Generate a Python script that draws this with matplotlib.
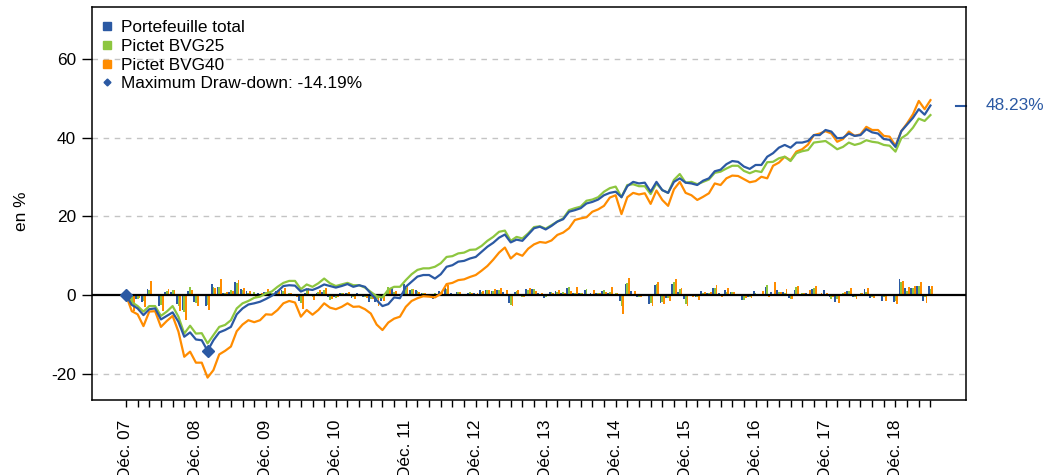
import matplotlib
matplotlib.use("Agg")
import matplotlib.pyplot as plt
import numpy as np
from matplotlib.lines import Line2D
from matplotlib.transforms import blended_transform_factory

plt.rcParams['font.family'] = ['Liberation Sans', 'DejaVu Sans']

# cumulated performance in %, monthly from Dec 2007 to Jun 2019
total = [0, -2.5, -3.4, -5.1, -3.6, -3.4, -6.2, -5.3, -4.4, -6.8, -10.6, -9.5,
         -11.3, -11.5, -14.19, -11.5, -9.5, -8.9, -8.1, -4.9, -3.4, -2.4, -2.1, -1.7,
         -1.0, -0.2, 0.9, 2.3, 2.5, 2.4, 0.9, 1.5, 1.3, 1.9, 2.7, 2.3,
         1.9, 2.3, 2.8, 2.1, 2.5, 2.1, 0.4, -1.3, -2.8, -2.3, -0.6, -0.8,
         2.1, 3.4, 4.7, 5.1, 5.1, 4.2, 5.3, 7.2, 7.6, 8.5, 8.7, 9.3,
         9.7, 11.0, 12.3, 13.3, 14.6, 15.4, 13.4, 14.1, 13.8, 15.4, 17.0, 17.4,
         16.7, 17.6, 18.7, 19.3, 21.2, 21.6, 22.1, 23.3, 23.7, 24.3, 25.4, 26.0,
         26.3, 24.9, 27.7, 28.8, 28.4, 28.6, 26.3, 28.8, 26.7, 26.0, 28.8, 29.7,
         28.6, 28.4, 28.0, 29.1, 29.7, 31.5, 31.9, 33.3, 34.1, 33.9, 32.7, 32.1,
         33.1, 33.1, 35.2, 36.1, 37.5, 38.2, 37.5, 38.8, 38.8, 39.2, 40.7, 40.7,
         42.0, 41.6, 39.9, 40.0, 41.1, 40.5, 40.7, 42.2, 41.4, 41.1, 39.7, 39.5,
         37.7, 41.7, 43.4, 45.1, 47.3, 45.9, 48.23]
bvg25 = [0, -1.8, -2.8, -4.2, -2.8, -2.8, -5.3, -4.2, -2.8, -5.5, -9.8, -7.8,
         -9.8, -9.7, -12.3, -10.2, -8.1, -7.6, -6.4, -3.4, -2.1, -1.5, -0.7, -0.4,
         0.4, 0.9, 2.1, 3.1, 3.6, 3.6, 1.5, 2.7, 2.1, 3.0, 4.2, 3.0,
         2.3, 2.7, 3.1, 2.5, 2.5, 1.9, 0.8, -0.3, -0.6, 1.4, 2.1, 2.1,
         3.8, 5.3, 6.4, 6.8, 6.8, 7.2, 8.1, 9.7, 9.9, 10.6, 10.8, 11.5,
         11.6, 12.5, 13.8, 14.8, 16.1, 16.4, 13.8, 14.8, 14.4, 15.7, 17.3, 17.5,
         16.9, 17.8, 18.7, 19.5, 21.6, 22.1, 22.5, 24.0, 24.3, 24.9, 26.3, 27.2,
         27.6, 24.9, 28.0, 28.2, 27.7, 27.7, 25.7, 28.4, 26.7, 26.0, 29.3, 30.8,
         28.6, 28.8, 28.2, 28.8, 29.4, 31.1, 31.4, 32.2, 32.9, 32.9, 31.6, 31.0,
         31.6, 31.3, 33.8, 33.9, 34.8, 35.2, 34.1, 36.1, 36.6, 36.9, 38.8, 39.0,
         39.2, 38.2, 37.1, 37.7, 38.8, 38.2, 38.6, 39.4, 39.0, 38.8, 38.2, 38.0,
         36.5, 39.9, 40.9, 42.6, 44.9, 44.3, 45.8]
bvg40 = [0, -4.1, -4.9, -7.9, -4.2, -4.1, -8.1, -6.6, -5.3, -9.3, -15.7, -14.4,
         -17.2, -17.2, -21.0, -19.1, -15.1, -14.2, -13.1, -9.2, -7.5, -6.4, -6.9, -6.4,
         -4.9, -5.0, -3.8, -2.1, -1.5, -1.9, -5.5, -3.8, -5.0, -3.8, -2.1, -3.2,
         -3.6, -3.0, -2.1, -3.0, -2.9, -3.6, -4.7, -7.5, -8.9, -7.0, -6.0, -5.5,
         -3.0, -1.5, -0.8, -0.3, -0.4, -0.6, 0.3, 2.8, 3.1, 3.8, 4.0, 4.6,
         5.1, 6.2, 7.4, 9.0, 10.8, 12.1, 9.3, 10.6, 10.0, 11.8, 12.9, 13.5,
         13.3, 13.9, 15.3, 15.9, 17.0, 19.1, 19.5, 19.8, 21.2, 21.8, 22.7, 24.8,
         25.4, 20.6, 24.9, 26.0, 25.6, 25.9, 23.2, 26.6, 24.2, 22.7, 26.9, 28.8,
         26.0, 25.4, 24.2, 25.0, 25.9, 28.4, 28.0, 29.7, 30.4, 30.3, 29.5, 28.7,
         29.0, 30.1, 29.7, 32.9, 33.7, 35.2, 34.3, 36.5, 37.1, 38.3, 40.7, 41.1,
         41.7, 41.1, 39.0, 39.7, 41.6, 40.5, 40.9, 42.8, 42.0, 42.0, 40.5, 40.3,
         38.0, 41.7, 43.7, 46.0, 49.4, 47.3, 49.6]

# monthly returns in %
ret_total = [0, -2.5, -0.9, -1.7, 1.5, 0.2, -2.8, 0.9, 0.9, -2.4, -3.8, 1.1,
             -1.8, -0.2, -2.7, 2.7, 2.0, 0.6, 0.8, 3.2, 1.5, 1.0, 0.3, 0.4,
             0.7, 0.8, 1.1, 1.4, 0.2, -0.1, -1.5, 0.6, -0.2, 0.6, 0.8, -0.4,
             -0.4, 0.4, 0.5, -0.7, 0.4, -0.4, -1.7, -1.7, -1.5, 0.5, 1.7, -0.2,
             2.9, 1.3, 1.3, 0.4, 0.0, -0.9, 1.1, 1.9, 0.4, 0.9, 0.2, 0.6,
             0.4, 1.3, 1.3, 1.0, 1.3, 0.8, -2.0, 0.7, -0.3, 1.6, 1.6, 0.4,
             -0.7, 0.9, 1.1, 0.6, 1.9, 0.4, 0.5, 1.2, 0.4, 0.6, 1.1, 0.6,
             0.3, -1.4, 2.8, 1.1, -0.4, 0.2, -2.3, 2.5, -2.1, -0.7, 2.8, 0.9,
             -1.1, -0.2, -0.4, 1.1, 0.6, 1.8, 0.4, 1.4, 0.8, -0.2, -1.2, -0.6,
             1.0, 0.0, 2.1, 0.9, 1.4, 0.7, -0.7, 1.3, 0.0, 0.4, 1.5, 0.0,
             1.3, -0.4, -1.7, 0.1, 1.1, -0.6, 0.2, 1.5, -0.8, -0.3, -1.4, -0.2,
             -1.8, 4.0, 1.7, 1.7, 2.2, -1.4, 2.3]
ret_bvg25 = [0, -1.8, -1.0, -1.4, 1.4, 0.0, -2.5, 1.1, 1.4, -2.7, -4.3, 2.0,
             -2.0, 0.1, -2.6, 2.1, 2.1, 0.5, 1.2, 3.0, 1.3, 0.6, 0.8, 0.3,
             0.8, 0.5, 1.2, 1.0, 0.5, 0.0, -2.1, 1.2, -0.6, 0.9, 1.2, -1.2,
             -0.7, 0.4, 0.4, -0.6, 0.0, -0.6, -1.1, -1.1, -0.3, 2.0, 0.7, 0.0,
             1.7, 1.5, 1.1, 0.4, 0.0, 0.4, 0.9, 1.6, 0.2, 0.7, 0.2, 0.7,
             0.1, 0.9, 1.3, 1.0, 1.3, 0.3, -2.6, 1.0, -0.4, 1.3, 1.6, 0.2,
             -0.6, 0.9, 0.9, 0.8, 2.1, 0.5, 0.4, 1.5, 0.3, 0.6, 1.4, 0.9,
             0.4, -2.7, 3.1, 0.2, -0.5, 0.0, -2.0, 2.7, -1.7, -0.7, 3.3, 1.5,
             -2.2, 0.2, -0.6, 0.6, 0.6, 1.7, 0.3, 0.8, 0.7, 0.0, -1.3, -0.6,
             0.6, -0.3, 2.5, 0.1, 0.9, 0.4, -1.1, 2.0, 0.5, 0.3, 1.9, 0.2,
             0.2, -1.0, -1.1, 0.6, 1.1, -0.6, 0.4, 0.8, -0.4, -0.2, -0.6, -0.2,
             -1.5, 3.4, 1.0, 1.7, 2.3, -0.6, 1.5]
ret_bvg40 = [0, -4.1, -0.8, -3.0, 3.7, 0.1, -4.0, 1.5, 1.3, -4.0, -6.4, 1.3,
             -2.8, 0.0, -3.8, 1.9, 4.0, 0.9, 1.1, 3.9, 1.7, 1.1, -0.5, 0.5,
             1.5, -0.1, 1.2, 1.7, 0.6, -0.4, -3.6, 1.7, -1.2, 1.2, 1.7, -1.1,
             -0.4, 0.6, 0.9, -0.9, 0.1, -0.7, -1.1, -2.8, -1.4, 1.9, 1.0, 0.5,
             2.5, 1.5, 0.7, 0.5, -0.1, -0.2, 0.9, 2.5, 0.3, 0.7, 0.2, 0.6,
             0.5, 1.1, 1.2, 1.6, 1.8, 1.3, -2.8, 1.3, -0.6, 1.8, 1.1, 0.6,
             -0.2, 0.6, 1.4, 0.6, 1.1, 2.1, 0.4, 0.3, 1.4, 0.6, 0.9, 2.1,
             0.6, -4.8, 4.3, 1.1, -0.4, 0.3, -2.7, 3.4, -2.4, -1.5, 4.2, 1.9,
             -2.8, -0.6, -1.2, 0.8, 0.9, 2.5, -0.4, 1.7, 0.7, -0.1, -0.8, -0.8,
             0.3, 1.1, -0.4, 3.2, 0.8, 1.5, -0.9, 2.2, 0.6, 1.2, 2.4, 0.4,
             0.6, -0.6, -2.1, 0.7, 1.9, -1.1, 0.4, 1.9, -0.8, 0.0, -1.5, -0.2,
             -2.3, 3.7, 2.0, 2.3, 3.4, -2.1, 2.3]

names = ["Portefeuille total", "Pictet BVG25", "Pictet BVG40"]
colors = ["#2b59a3", "#8dc63f", "#ff8c00"]
mdd_months = [0, 14]
mdd_values = [0, -14.19]
mdd_label = "Maximum Draw-down: -14.19%"
year_labels = ["Déc. 07", "Déc. 08", "Déc. 09", "Déc. 10", "Déc. 11", "Déc. 12",
               "Déc. 13", "Déc. 14", "Déc. 15", "Déc. 16", "Déc. 17", "Déc. 18"]

months = np.arange(len(total))
fs = 12.4

fig = plt.figure(figsize=(10.44, 4.75), dpi=100)
ax = fig.add_axes([0.0881, 0.1579, 0.8372, 0.8274])

# grid
for y in [-20, 20, 40, 60]:
    ax.axhline(y, color="#c4c4c4", lw=1.0, ls=(0, (4, 4)), zorder=1)

# monthly bars
w = 0.31
for rets, c, off in zip([ret_total, ret_bvg25, ret_bvg40], colors, [-w, 0, w]):
    ax.bar(months + off, rets, width=w, color=c, zorder=2, linewidth=0)

ax.axhline(0, color="black", lw=1.6, zorder=3)

# cumulated lines
ax.plot(months, bvg40, color=colors[2], lw=1.6, zorder=4)
ax.plot(months, bvg25, color=colors[1], lw=1.6, zorder=4)
ax.plot(months, total, color=colors[0], lw=1.6, zorder=5)
ax.plot(mdd_months, mdd_values, "D", color=colors[0], ms=6, zorder=6)

ax.set_xlim(-5.83, 144.1)
ax.set_ylim(-26.7, 73.3)

ax.set_yticks([-20, 0, 20, 40, 60])
ax.set_yticklabels(["-20", "0", "20", "40", "60"], fontsize=fs)
ax.tick_params(axis="y", direction="out", length=7.5, width=1.0, pad=4)

ax.set_xticks(months[::12])
ax.set_xticklabels(year_labels, rotation=90, fontsize=fs, va="top")
ax.set_xticks(months[::2], minor=True)
ax.tick_params(axis="x", which="major", direction="out", length=5, width=1.0, pad=9)
ax.tick_params(axis="x", which="minor", direction="out", length=5, width=1.0)

for s in ax.spines.values():
    s.set_linewidth(1.1)

ax.set_ylabel("en %", fontsize=fs)
ax.yaxis.set_label_coords(-0.072, 0.48)

# last value marker on the right
tr = blended_transform_factory(ax.transAxes, ax.transData)
ax.add_line(Line2D([0.989, 1.0], [total[-1], total[-1]], transform=tr,
                   color=colors[0], lw=1.5, clip_on=False))
ax.text(1.022, total[-1], "%.2f%%" % total[-1], transform=tr, color=colors[0],
        fontsize=fs, va="center", ha="left")

handles = [Line2D([], [], ls="none", marker="s", ms=5.5, color=c) for c in colors]
handles.append(Line2D([], [], ls="none", marker="D", ms=3.5, color=colors[0]))
ax.legend(handles, names + [mdd_label], loc="upper left", bbox_to_anchor=(-0.005, 1.0),
          frameon=False, fontsize=fs, handlelength=0.8, handletextpad=0.4,
          labelspacing=0.22, borderaxespad=0.55, borderpad=0.2)

fig.savefig("out.png", dpi=100)
